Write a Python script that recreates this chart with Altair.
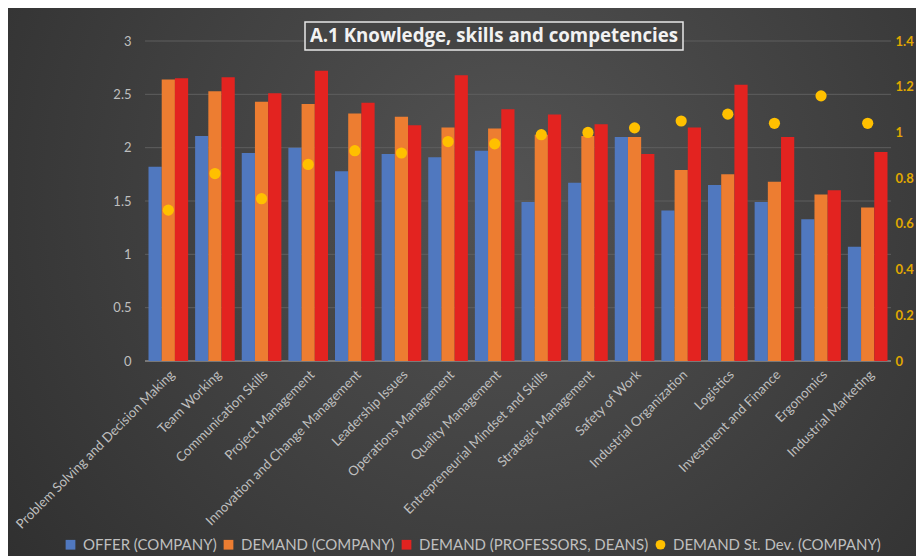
import altair as alt
import pandas as pd

categories = [
    "Problem Solving and Decision Making", "Team Working", "Communication Skills",
    "Project Management", "Innovation and Change Management", "Leadership Issues",
    "Operations Management", "Quality Management", "Entrepreneurial Mindset and Skills",
    "Strategic Management", "Safety of Work", "Industrial Organization", "Logistics",
    "Investment and Finance", "Ergonomics", "Industrial Marketing",
]
offer = [1.82, 2.11, 1.95, 2.00, 1.78, 1.94, 1.91, 1.97, 1.49, 1.67, 2.10, 1.41, 1.65, 1.49, 1.33, 1.07]
demand_company = [2.64, 2.53, 2.43, 2.41, 2.32, 2.29, 2.19, 2.18, 2.12, 2.11, 2.10, 1.79, 1.75, 1.68, 1.56, 1.44]
demand_prof = [2.65, 2.66, 2.51, 2.72, 2.42, 2.21, 2.68, 2.36, 2.31, 2.22, 1.94, 2.19, 2.59, 2.10, 1.60, 1.96]
stdev_company = [0.66, 0.82, 0.71, 0.86, 0.92, 0.91, 0.96, 0.95, 0.99, 1.00, 1.02, 1.05, 1.08, 1.04, 1.16, 1.04]

series_names = ["OFFER (COMPANY)", "DEMAND (COMPANY)", "DEMAND (PROFESSORS, DEANS)", "DEMAND St. Dev. (COMPANY)"]
series_colors = ["#5078BF", "#ED7D31", "#E32320", "#FFC000"]
series_shapes = ["square", "square", "square", "circle"]
left_ticks = [0, 0.5, 1, 1.5, 2, 2.5, 3]
right_ticks = [0, 0.2, 0.4, 0.6, 0.8, 1, 1.2, 1.4]
title_text = "A.1 Knowledge, skills and competencies"

rows = []
for i, c in enumerate(categories):
    for s, vals in zip(series_names[:3], [offer, demand_company, demand_prof]):
        rows.append({"category": c, "series": s, "value": vals[i]})
bars_df = pd.DataFrame(rows)
dots_df = pd.DataFrame({"category": categories,
                        "series": [series_names[3]] * len(categories),
                        "value": stdev_company})
grid_df = pd.DataFrame({"v": left_ticks[1:]})
base_df = pd.DataFrame({"v": left_ticks[:1]})

W, H = 746, 320
PL, PT, PR, PB = 137, 33, 25, 195
LABEL = "#BFBFBF"
FONT = "Lato"
LEFT_DOMAIN = [0, 3]

legend = alt.Legend(
    title=None, orient="none", legendX=-82, legendY=496, direction="horizontal",
    columns=4, labelColor=LABEL, labelFontSize=15, labelFont=FONT, symbolSize=95,
    symbolStrokeWidth=0, columnPadding=4, labelOffset=5, labelLimit=400,
)

x_enc = alt.X(
    "category:N", sort=categories,
    scale=alt.Scale(paddingInner=0.15, paddingOuter=0.075),
    axis=alt.Axis(title=None, labelAngle=-45, labelAlign="right", labelBaseline="top",
                  labelColor=LABEL, labelFontSize=13.2, labelFont=FONT, labelLimit=320,
                  labelPadding=7, ticks=False, domain=False, grid=False, zindex=1),
)
color_enc = alt.Color("series:N", scale=alt.Scale(domain=series_names, range=series_colors),
                      legend=legend)

bg = alt.Chart(pd.DataFrame({"k": [0]})).mark_rect(
    color=alt.RadialGradient(
        gradient="radial",
        stops=[alt.GradientStop(color="#535353", offset=0),
               alt.GradientStop(color="#2A2A2A", offset=1)],
        x1=0.55, y1=0.4, x2=0.55, y2=0.4, r1=0, r2=0.8,
    )
).encode(x=alt.value(-PL), x2=alt.value(W + PR), y=alt.value(-PT), y2=alt.value(H + PB))

grid = alt.Chart(grid_df).mark_rule(color="#5E5E5E", strokeWidth=1).encode(
    y=alt.Y("v:Q", scale=alt.Scale(domain=LEFT_DOMAIN), axis=None)
)
baseline = alt.Chart(base_df).mark_rule(color="#8C8C8C", strokeWidth=1.5).encode(
    y=alt.Y("v:Q", scale=alt.Scale(domain=LEFT_DOMAIN), axis=None)
)

bars = alt.Chart(bars_df).mark_bar().encode(
    x=x_enc,
    xOffset=alt.XOffset("series:N", scale=alt.Scale(domain=series_names[:3])),
    y=alt.Y("value:Q", scale=alt.Scale(domain=LEFT_DOMAIN),
            axis=alt.Axis(title=None, values=left_ticks, format="~g", domain=False, ticks=False,
                          labelColor=LABEL, labelFontSize=13, labelFont=FONT, labelPadding=14,
                          grid=False, zindex=1)),
    color=color_enc,
)

dots = alt.Chart(dots_df).mark_point(filled=True, opacity=1, size=125).encode(
    x=x_enc,
    y=alt.Y("value:Q", scale=alt.Scale(domain=[0, 1.4]),
            axis=alt.Axis(title=None, orient="right", values=right_ticks, format=".1~f",
                          domain=False, ticks=False, grid=False, labelColor="#E0A800",
                          labelFontSize=13, labelFont=FONT, labelFontWeight="bold",
                          labelPadding=4, zindex=1)),
    color=color_enc,
    shape=alt.Shape("series:N", scale=alt.Scale(domain=series_names, range=series_shapes),
                    legend=legend),
)

title_box = alt.Chart(pd.DataFrame({"k": [0]})).mark_rect(
    fill="#444444", stroke="#E6E6E6", strokeWidth=1.5
).encode(x=alt.value(160), x2=alt.value(538), y=alt.value(-19), y2=alt.value(9))

title = alt.Chart(pd.DataFrame({"t": [title_text]})).mark_text(
    font="Open Sans", fontSize=18.7, fontWeight="bold", color="#F2F2F2",
    align="center", baseline="middle"
).encode(x=alt.value(349), y=alt.value(-5), text="t:N")

chart = alt.layer(bg, grid, baseline, bars, dots, title_box, title).resolve_scale(
    y="independent"
).properties(
    width=W, height=H,
    padding={"left": PL, "top": PT, "right": PR, "bottom": PB},
    autosize=alt.AutoSizeParams(type="none"),
    background="#3A3A3A",
).configure_view(stroke=None).configure(font=FONT)

chart.save("out.html", embed_options={"renderer": "svg", "actions": False})
